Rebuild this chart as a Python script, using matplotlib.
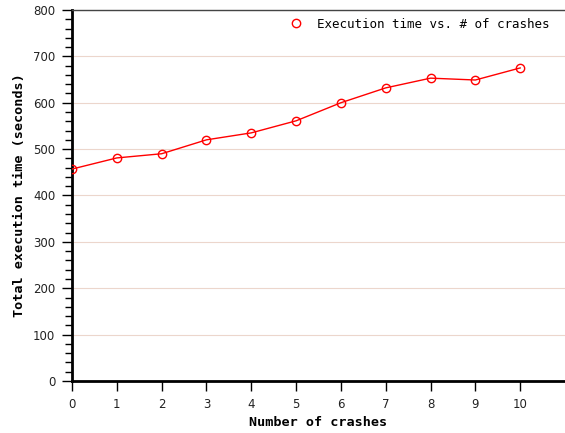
import matplotlib
matplotlib.use("Agg")
import matplotlib.pyplot as plt
from matplotlib.lines import Line2D
from matplotlib.ticker import MultipleLocator

# data
crashes = [0, 1, 2, 3, 4, 5, 6, 7, 8, 9, 10]
exec_time = [457, 481, 490, 520, 535, 561, 600, 632, 653, 649, 675]
series_label = "Execution time vs. # of crashes"

fig = plt.figure(figsize=(5.65, 4.33), dpi=100)
ax = fig.add_axes([0.1274, 0.120, 0.8726, 0.857])

ax.plot(crashes, exec_time, color="#ff0000", linewidth=1.0,
        marker="o", markersize=6, markerfacecolor="none",
        markeredgecolor="#ff0000", markeredgewidth=1.0, zorder=3)

ax.set_xlim(0, 11)
ax.set_ylim(0, 800)
ax.set_xticks(crashes)
ax.yaxis.set_major_locator(MultipleLocator(100))
ax.yaxis.set_minor_locator(MultipleLocator(20))

ax.grid(axis="y", which="major", color="#ecd6cc", linewidth=0.8)
ax.set_axisbelow(True)

ax.spines["right"].set_visible(False)
ax.spines["top"].set_color("#444444")
ax.spines["top"].set_linewidth(1.0)
ax.spines["left"].set_linewidth(2.0)
ax.spines["bottom"].set_linewidth(2.0)

ax.tick_params(axis="both", which="major", direction="out", length=7,
               width=1.0, labelsize=8.5, labelcolor="#222222", pad=5)
ax.tick_params(axis="y", which="minor", direction="out", length=5, width=1.0)

ax.set_xlabel("Number of crashes", family="DejaVu Sans Mono",
              fontweight="bold", fontsize=9.7)
ax.set_ylabel("Total execution time (seconds)", family="DejaVu Sans Mono",
              fontweight="bold", fontsize=9.7, labelpad=5)

handle = Line2D([], [], linestyle="none", marker="o", markersize=6,
                markerfacecolor="none", markeredgecolor="#ff0000")
leg = ax.legend([handle], [series_label], loc="upper right", frameon=False,
                prop={"family": "DejaVu Sans Mono", "size": 9},
                handletextpad=1.2, borderaxespad=0.3, handlelength=1.0,
                bbox_to_anchor=(0.987, 1.003))

fig.savefig("out.png", dpi=100)
